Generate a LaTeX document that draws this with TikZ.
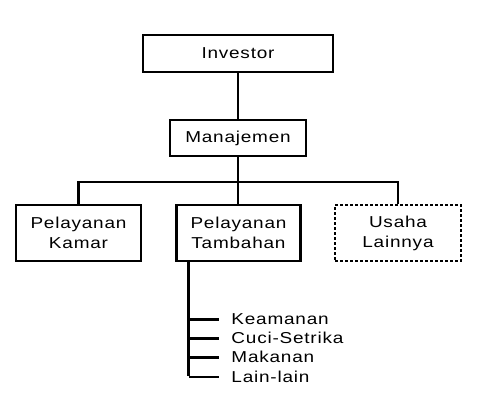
\documentclass[tikz,border=0pt]{standalone}
\usepackage{fontspec}
\setmainfont{Liberation Sans}[FakeStretch=1.2,LetterSpace=5]
\tikzset{
  unit/.style={draw=black,line width=2.9pt,align=center,inner sep=0pt},
  extra/.style={unit,dash pattern=on 2.6pt off 2.4pt},
  item/.style={anchor=west,inner sep=0pt,text height=11pt,text depth=1pt},
}
\begin{document}
\begin{tikzpicture}[x=1pt,y=-1pt,line width=2.9pt,font=\fontsize{15.8}{20}\selectfont]
      \useasboundingbox (0,0) rectangle (480,410);
      \node[unit,minimum width=190pt,minimum height=37pt] (inv) at (238,53.5) {Investor};
      \node[unit,minimum width=136pt,minimum height=36pt] (man) at (238,138) {Manajemen};
      \node[unit,minimum width=125pt,minimum height=56pt] (kamar) at (78.5,233) {Pelayanan\\Kamar};
      \node[unit,minimum width=124pt,minimum height=56pt] (tamb) at (238.5,233) {Pelayanan\\Tambahan};
      \node[extra,minimum width=126pt,minimum height=56pt] (usaha) at (398,233) {Usaha\\Lainnya};
      \coordinate (bus) at (238,182);
      \coordinate (stem) at ([xshift=-50pt]tamb.south);
      \draw (inv) -- (man);
      \draw (man) -- (bus);
      \draw (kamar.north) |- (bus) -| (usaha.north);
      \draw (bus) -- (bus |- tamb.north);
      \foreach \name/\txt/\y in {k1/Keamanan/319.5,k2/Cuci-Setrika/338.5,k3/Makanan/357.5,k4/Lain-lain/377} {
        \node[item] (\name) at (230,\y) {\txt};
        \draw[shorten >=11pt] (stem |- \name.west) -- (\name.west);
      }
      \draw (stem) -- ([yshift=1.45pt]stem |- k4.west);
    \end{tikzpicture}
\end{document}
